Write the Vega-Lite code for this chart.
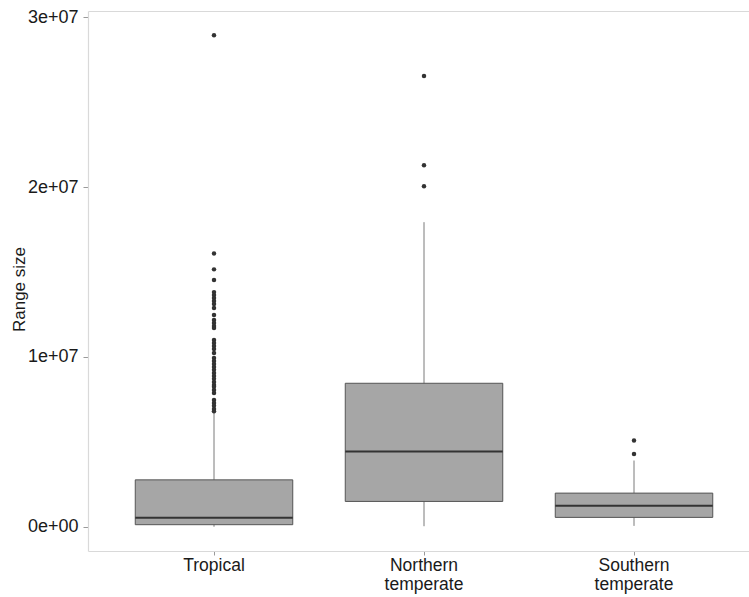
{
  "$schema": "https://vega.github.io/schema/vega-lite/v6.json",
  "width": 661,
  "height": 540,
  "autosize": {"type": "none"},
  "padding": {"left": 88, "top": 11, "right": 0, "bottom": 46},
  "background": "white",
  "config": {
    "view": {"stroke": null},
    "font": "Liberation Sans",
    "axis": {"grid": false, "domainColor": "#d9d9d9", "domainWidth": 1.2, "tickColor": "#9a9a9a", "labelColor": "#1a1a1a", "labelFontSize": 17, "titleColor": "#1a1a1a"}
  },
  "datasets": {
    "summary": [
      {"region": "Tropical", "lower": 0, "q1": 120000, "median": 530000, "q3": 2760000, "upper": 6700000},
      {"region": "Northern temperate", "lower": 30000, "q1": 1490000, "median": 4430000, "q3": 8450000, "upper": 17940000},
      {"region": "Southern temperate", "lower": 50000, "q1": 550000, "median": 1240000, "q3": 1980000, "upper": 3900000}
    ],
    "outliers": [
      {"region": "Tropical", "size": 28950000},
      {"region": "Tropical", "size": 16100000},
      {"region": "Tropical", "size": 15160000},
      {"region": "Tropical", "size": 14530000},
      {"region": "Tropical", "size": 13820000},
      {"region": "Tropical", "size": 13650000},
      {"region": "Tropical", "size": 13470000},
      {"region": "Tropical", "size": 13300000},
      {"region": "Tropical", "size": 13120000},
      {"region": "Tropical", "size": 12880000},
      {"region": "Tropical", "size": 12470000},
      {"region": "Tropical", "size": 12180000},
      {"region": "Tropical", "size": 12000000},
      {"region": "Tropical", "size": 11820000},
      {"region": "Tropical", "size": 11700000},
      {"region": "Tropical", "size": 11000000},
      {"region": "Tropical", "size": 10820000},
      {"region": "Tropical", "size": 10650000},
      {"region": "Tropical", "size": 10470000},
      {"region": "Tropical", "size": 10240000},
      {"region": "Tropical", "size": 9940000},
      {"region": "Tropical", "size": 9760000},
      {"region": "Tropical", "size": 9590000},
      {"region": "Tropical", "size": 9410000},
      {"region": "Tropical", "size": 9240000},
      {"region": "Tropical", "size": 9060000},
      {"region": "Tropical", "size": 8880000},
      {"region": "Tropical", "size": 8710000},
      {"region": "Tropical", "size": 8530000},
      {"region": "Tropical", "size": 8350000},
      {"region": "Tropical", "size": 8240000},
      {"region": "Tropical", "size": 8060000},
      {"region": "Tropical", "size": 7880000},
      {"region": "Tropical", "size": 7470000},
      {"region": "Tropical", "size": 7290000},
      {"region": "Tropical", "size": 7120000},
      {"region": "Tropical", "size": 6940000},
      {"region": "Tropical", "size": 6800000},
      {"region": "Northern temperate", "size": 26550000},
      {"region": "Northern temperate", "size": 21300000},
      {"region": "Northern temperate", "size": 20050000},
      {"region": "Southern temperate", "size": 5080000},
      {"region": "Southern temperate", "size": 4290000}
    ]
  },
  "resolve": {"axis": {"x": "independent"}},
  "layer": [
    {
      "data": {"name": "summary"},
      "mark": {"type": "rule", "color": "#7a7a7a", "strokeWidth": 1},
      "encoding": {
        "x": {
          "field": "region", "type": "nominal",
          "scale": {"type": "band", "domain": ["Tropical", "Northern temperate", "Southern temperate"], "range": [0, 672], "paddingInner": 0.25, "paddingOuter": 0.225},
          "axis": {"orient": "top", "labels": false, "ticks": false, "title": null, "domain": true}
        },
        "y": {
          "field": "lower", "type": "quantitative",
          "scale": {"domain": [-1430000, 30380000], "nice": false, "zero": false},
          "axis": {
            "values": [0, 10000000, 20000000, 30000000],
            "labelExpr": "datum.value == 0 ? '0e+00' : format(datum.value / 10000000, 'd') + 'e+07'",
            "labelFontSize": 18,
            "title": "Range size",
            "titleFontSize": 17,
            "titleFontWeight": "normal",
            "titleX": -60,
            "titleY": 278,
            "tickSize": 5,
            "labelPadding": 5
          }
        },
        "y2": {"field": "upper"}
      }
    },
    {
      "data": {"name": "summary"},
      "mark": {"type": "bar", "fill": "#a6a6a6", "stroke": "#555555", "strokeWidth": 1},
      "encoding": {
        "x": {
          "field": "region", "type": "nominal",
          "axis": {"orient": "bottom", "title": null, "labelAngle": 0, "labelExpr": "split(datum.label, ' ')", "labelFontSize": 17.5, "labelLineHeight": 19, "tickSize": 4, "labelPadding": 1}
        },
        "y": {"field": "q1", "type": "quantitative"},
        "y2": {"field": "q3"}
      }
    },
    {
      "data": {"name": "summary"},
      "mark": {"type": "tick", "color": "#333333", "thickness": 2, "size": 157.5, "opacity": 1},
      "encoding": {
        "x": {"field": "region", "type": "nominal", "axis": null},
        "y": {"field": "median", "type": "quantitative"}
      }
    },
    {
      "data": {"name": "outliers"},
      "mark": {"type": "circle", "color": "#333333", "size": 20, "opacity": 1},
      "encoding": {
        "x": {"field": "region", "type": "nominal", "axis": null},
        "y": {"field": "size", "type": "quantitative"}
      }
    }
  ]
}
